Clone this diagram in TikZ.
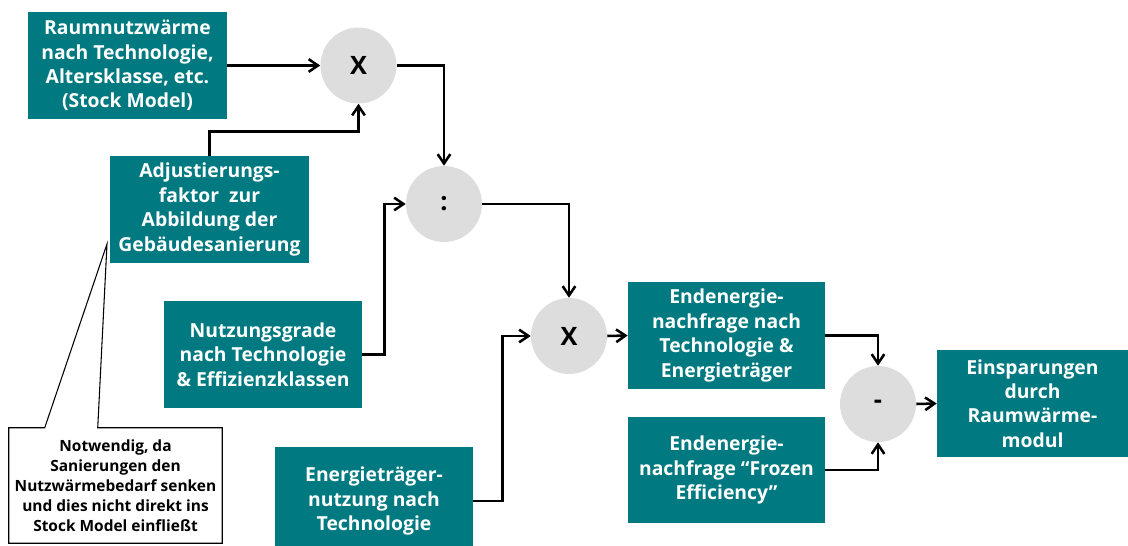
\documentclass[tikz,border=0pt]{standalone}
\usepackage{fontspec}
\setmainfont{Open Sans}
\usetikzlibrary{arrows.meta}
\definecolor{teal}{RGB}{0,122,128}
\definecolor{opgray}{RGB}{221,221,221}
\tikzset{
  databox/.style={fill=teal, text=white, font=\bfseries\fontsize{14.5pt}{18.3pt}\selectfont,
    align=center, inner sep=0pt, minimum width=149pt, minimum height=80pt},
  opnode/.style={circle, fill=opgray, minimum size=57pt, inner sep=0pt,
    font=\bfseries\fontsize{19pt}{21pt}\selectfont},
  flow/.style={line width=1.9pt, -{Straight Barb[length=7pt,width=9.5pt]}},
  notebox/.style={align=center, inner sep=0pt, minimum width=159.75pt, minimum height=86.25pt,
    font=\bfseries\fontsize{11.6pt}{15pt}\selectfont}
}
\begin{document}
\begin{tikzpicture}[x=0.75pt,y=-0.75pt]
\clip (0,0) rectangle (1128,546);

% input and result boxes
\node[databox] (A) at (127.5,65.5) {Raumnutzwärme\\nach Technologie,\\Altersklasse, etc.\\(Stock Model)};
\node[databox, minimum height=80.25pt] (B) at (209.5,209.5) {Adjustierungs-\\faktor\ \ zur\\Abbildung der\\Gebäudesanierung};
\node[databox, minimum width=148.5pt, minimum height=80.25pt] (C) at (263,354.5) {Nutzungsgrade\\nach Technologie\\\& Effizienzklassen};
\node[databox, minimum width=148.5pt, minimum height=81pt] (G) at (374,501) {Energieträger-\\nutzung nach\\Technologie};
\node[databox, minimum width=147.75pt, minimum height=80.25pt] (D) at (726.5,335.5) {Endenergie-\\nachfrage nach\\Technologie \&\\Energieträger};
\node[databox, minimum width=147.75pt, minimum height=79.5pt] (E) at (726.5,470) {Endenergie-\\nachfrage “Frozen\\Efficiency”};
\node[databox, minimum width=143.25pt, minimum height=80.25pt] (F) at (1032.5,403.5) {Einsparungen\\durch\\Raumwärme-\\modul};

% operators
\node[opnode] (X1) at (358.5,65.5) {X};
\node[opnode] (DIV) at (444,204) {:};
\node[opnode] (X2) at (569,336) {X};
\node[opnode] (SUB) at (878,404) {-};

% connectors
\draw[flow] (A.east) -- (X1.west);
\draw[flow] (B.north) -- ++(0,-24) -| (X1.south);
\draw[flow] (X1.east) -| (DIV.north);
\draw[flow] (C.east) -- ++(22,0) |- (DIV.west);
\draw[flow] (DIV.east) -| (X2.north);
\draw[flow] (G.east) -- ++(29,0) |- (X2.west);
\draw[flow] (X2.east) -- (D.west);
\draw[flow] (D.east) -| (SUB.north);
\draw[flow] (E.east) -| (SUB.south);
\draw[flow] (SUB.east) -- (F.west);

% callout note
\node[notebox] (note) at (115.5,485.5) {Notwendig, da\\Sanierungen den\\Nutzwärmebedarf senken\\und dies nicht direkt ins\\Stock Model einfließt};
\coordinate (tip) at (107,244);
\draw[line width=0.8pt, line join=miter] (note.north west) -- ([xshift=27pt]note.north west) -- (tip)
  -- ([xshift=66.75pt]note.north west) -- (note.north east) -- (note.south east)
  -- (note.south west) -- cycle;
\end{tikzpicture}
\end{document}
